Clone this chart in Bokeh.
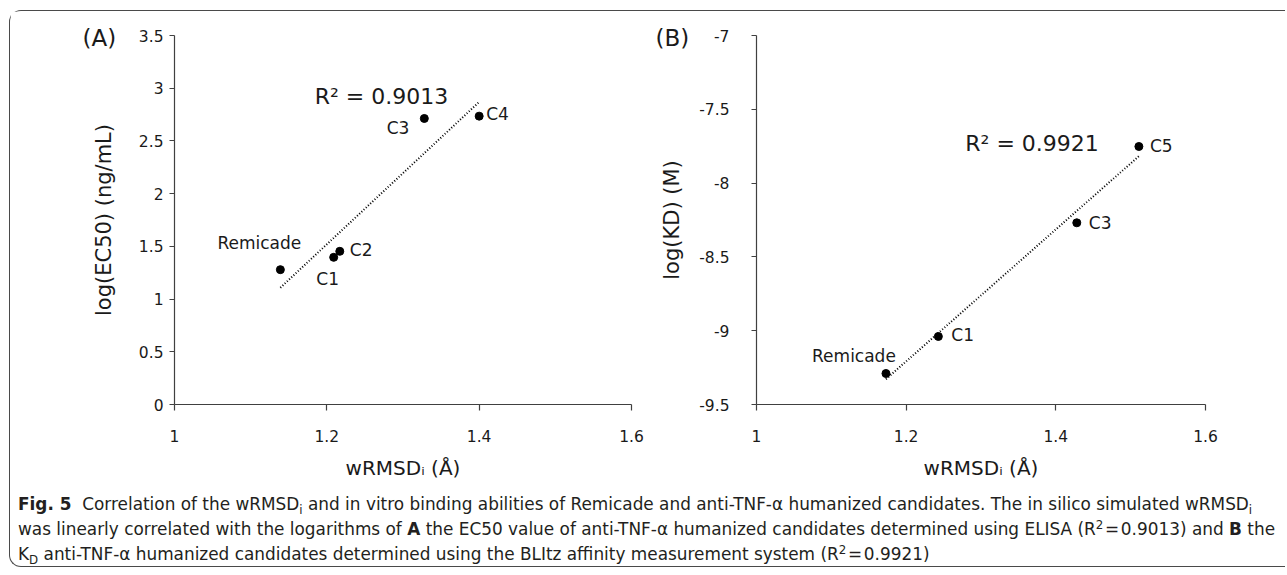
import numpy as np
from bokeh.plotting import figure
from bokeh.models import Label, Div, FixedTicker, Range1d, NumeralTickFormatter, Title
from bokeh.layouts import row, column
from bokeh.embed import file_html
from bokeh.resources import INLINE
from bokeh.core.properties import value

# ---------------- data ----------------
a_names = ["Remicade", "C1", "C2", "C3", "C4"]
a_wrmsd = [1.139, 1.209, 1.217, 1.328, 1.400]
a_log_ec50 = [1.279, 1.396, 1.453, 2.713, 2.735]
a_r2_text = "R² = 0.9013"

b_names = ["Remicade", "C1", "C3", "C5"]
b_wrmsd = [1.173, 1.243, 1.428, 1.511]
b_log_kd = [-9.290, -9.039, -8.269, -7.752]
b_r2_text = "R² = 0.9921"

x_ticks = [1.0, 1.2, 1.4, 1.6]
a_y_ticks = [0, 0.5, 1, 1.5, 2, 2.5, 3, 3.5]
b_y_ticks = [-9.5, -9, -8.5, -8, -7.5, -7]

x_title = "wRMSDᵢ (Å)"
a_ylabel = "log(EC50) (ng/mL)"
b_ylabel = "log(KD) (M)"
a_panel = "(A)"
b_panel = "(B)"

SUB = '<span style="position:relative; top:4px; font-size:70%;">{}</span>'
SUP = '<span style="position:relative; top:-6px; font-size:70%;">{}</span>'
caption_lines = [
    "<b>Fig. 5</b>&nbsp; Correlation of the wRMSD" + SUB.format("i")
    + " and in vitro binding abilities of Remicade and anti-TNF-α humanized candidates. "
      "The in silico simulated wRMSD" + SUB.format("i"),
    "was linearly correlated with the logarithms of <b>A</b> the EC50 value of anti-TNF-α "
    "humanized candidates determined using ELISA (R" + SUP.format("2")
    + "&#8202;=&#8202;0.9013) and <b>B</b> the",
    "K" + SUB.format("D") + " anti-TNF-α humanized candidates determined using the BLItz "
    "affinity measurement system (R" + SUP.format("2") + "&#8202;=&#8202;0.9921)",
]

# ---------------- label placement (styling only) ----------------
a_lab_align = ["center", "center", "left", "right", "left"]
a_lab_dx = [-21, -6, 10, -15, 7]
a_lab_dy = [-27, 22, -1, 10, -2]
b_lab_align = ["center", "left", "left", "left"]
b_lab_dx = [-32, 13, 12, 11]
b_lab_dy = [-18, -1, 0, 0]

FONT = "DejaVu Sans"
TXT = "#1a1a1a"
AXC = "#404040"

H = 478
WA, WB = 642, 633
TOP = 24
FRAME_H = 369


def make_panel(width, xr, yr, yticks, ylabel, bl, frame_w, ylab_standoff, ytick_standoff,
               panel_text, panel_offset):
    p = figure(width=width, height=H, x_range=Range1d(*xr), y_range=Range1d(*yr),
               output_backend="svg", toolbar_location=None, tools="",
               min_border_left=bl, min_border_right=width - bl - frame_w,
               min_border_top=TOP, min_border_bottom=H - TOP - FRAME_H)
    p.xgrid.visible = False
    p.ygrid.visible = False
    p.outline_line_color = None
    p.background_fill_color = "white"
    p.border_fill_color = "white"
    p.xaxis.ticker = FixedTicker(ticks=x_ticks)
    p.yaxis.ticker = FixedTicker(ticks=yticks)
    p.axis.formatter = NumeralTickFormatter(format="0.[0]")
    p.axis.axis_line_color = AXC
    p.axis.axis_line_width = 1.2
    p.axis.major_tick_line_color = AXC
    p.axis.major_tick_line_width = 1.2
    p.axis.major_tick_in = 0
    p.xaxis.major_tick_out = 6
    p.yaxis.major_tick_out = 5
    p.axis.minor_tick_line_color = None
    p.axis.major_label_text_font = FONT
    p.axis.major_label_text_font_size = "15.5px"
    p.axis.major_label_text_color = TXT
    p.xaxis.major_label_standoff = 19
    p.yaxis.major_label_standoff = ytick_standoff
    p.axis.axis_label_text_font = FONT
    p.axis.axis_label_text_font_style = "normal"
    p.axis.axis_label_text_color = TXT
    p.yaxis.axis_label = ylabel
    p.yaxis.axis_label_text_font_size = "21px"
    p.yaxis.axis_label_standoff = ylab_standoff
    p.xaxis.axis_label = x_title
    p.xaxis.axis_label_text_font_size = "20px"
    p.xaxis.axis_label_standoff = 11
    p.add_layout(Title(text=panel_text, align="left", vertical_align="bottom",
                       offset=panel_offset, standoff=-31, text_font=FONT,
                       text_font_size="23px", text_font_style="normal",
                       text_color=TXT, text_line_height=0.2), "above")
    return p


def add_points(p, xs, ys, names, aligns, dxs, dys):
    k, b = np.polyfit(xs, ys, 1)
    lx = np.array([min(xs), max(xs)])
    p.line(lx, k * lx + b, line_color="black", line_width=2, line_dash="1 2")
    p.scatter(xs, ys, size=8, marker="circle", fill_color="black", line_color="black")
    for x, y, n, al, dx, dy in zip(xs, ys, names, aligns, dxs, dys):
        p.text(x=[x], y=[y], text=[n], text_font=value(FONT), text_font_size="17px",
               text_color=TXT, text_align=al, text_baseline="middle",
               x_offset=dx, y_offset=dy)


# ---------------- panel A ----------------
pa = make_panel(WA, (1.0, 1.6), (0, 3.5), a_y_ticks, a_ylabel, 164, 457, 20, 6,
                a_panel, -92)
add_points(pa, a_wrmsd, a_log_ec50, a_names, a_lab_align, a_lab_dx, a_lab_dy)
pa.add_layout(Label(x=1.184, y=2.92, text=a_r2_text, text_font=FONT, text_font_size="22px",
                    text_color=TXT, text_align="left", text_baseline="middle"))

# ---------------- panel B ----------------
pb = make_panel(WB, (1.0, 1.6), (-9.5, -7.0), b_y_ticks, b_ylabel, 104, 449, 12, 22,
                b_panel, -101)
add_points(pb, b_wrmsd, b_log_kd, b_names, b_lab_align, b_lab_dx, b_lab_dy)
pb.add_layout(Label(x=1.279, y=-7.73, text=b_r2_text, text_font=FONT, text_font_size="22px",
                    text_color=TXT, text_align="left", text_baseline="middle"))

# ---------------- caption ----------------
cap_html = ('<div style="font-family:\'DejaVu Sans\'; font-size:16.9px; line-height:23px; '
            'color:#231f20; padding:4px 0 0 8px; white-space:nowrap;">'
            + "<br>".join(caption_lines) + "</div>")
cap = Div(text=cap_html, width=WA + WB, height=77, margin=0)

layout = column(row(pa, pb), cap,
                styles={"border": "1.5px solid #4a4a4a", "border-right": "none",
                        "border-radius": "12px 0 0 12px",
                        "margin-left": "9px", "margin-top": "10px"})

open("out.html", "w").write(file_html(layout, INLINE))
